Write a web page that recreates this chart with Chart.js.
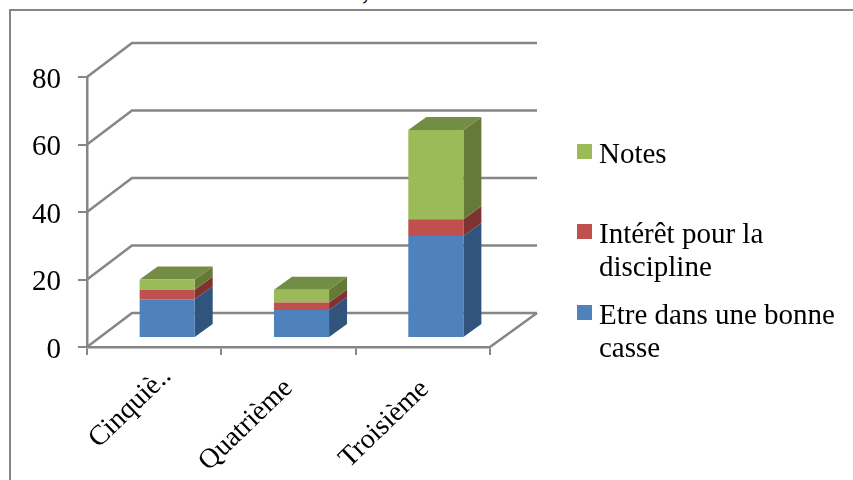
<!DOCTYPE html>
<html>
<head>
<meta charset="utf-8">
<style>
    html, body { margin: 0; padding: 0; background: #fff; overflow: hidden; }
    #wrap { position: relative; width: 853px; height: 480px; overflow: hidden; font-family: "Liberation Serif", serif; color: #000; }
    #frame { position: absolute; left: 9px; top: 9px; width: 860px; height: 490px; border: 2px solid #868686; box-sizing: border-box; }
    #title { position: absolute; left: 362px; top: -27px; font-size: 29px; line-height: 32px; word-spacing: 60px; white-space: nowrap; }
    canvas { position: absolute; left: 0; top: 0; }
    .item { position: absolute; left: 599px; width: 245px; font-size: 29px; line-height: 33px; }
    .box { position: absolute; left: -22px; top: 7px; width: 15px; height: 15px; }
</style>
</head>
<body>
<div id="wrap">
    <div id="frame"></div>
    <div id="title">, moteurs</div>
    <canvas id="chart" width="853" height="480"></canvas>
    <div id="legend"></div>
</div>
<script src="https://cdn.jsdelivr.net/npm/chart.js@4"></script>
<script>
const categories = ["Cinquiè..", "Quatrième", "Troisième"];
const yTicks = [0, 20, 40, 60, 80];
const bonneClasse = [11.5, 8.3, 30.2];
const interet = [2.8, 2.2, 5];
const notes = [3, 3.8, 26.4];

const lineColor = "#868686";
const fontName = "Liberation Serif";
const wall = { x: 45, y: 34, rightX: 47 };  // depth of the back wall
const barShift = { x: 13, y: 9 };           // bars stand inside the floor
const barDepth = { x: 18, y: 13 };
const labelNudge = [[13, 25], [0, 37], [2, 38]];
const labelAngle = 44;

function poly(ctx, pts, fill) {
    ctx.fillStyle = fill;
    ctx.beginPath();
    pts.forEach((p, i) => i ? ctx.lineTo(p[0], p[1]) : ctx.moveTo(p[0], p[1]));
    ctx.closePath();
    ctx.fill();
}

function line(ctx, pts) {
    ctx.beginPath();
    pts.forEach((p, i) => i ? ctx.lineTo(p[0], p[1]) : ctx.moveTo(p[0], p[1]));
    ctx.stroke();
}

const walls = {
    id: "walls",
    beforeDatasetsDraw(chart) {
        const ctx = chart.ctx;
        const { left, right } = chart.chartArea;
        const yScale = chart.scales.y;
        ctx.save();
        ctx.strokeStyle = lineColor;
        ctx.lineWidth = 2.5;
        yTicks.forEach(t => {
            const y = yScale.getPixelForValue(t);
            line(ctx, [[left, y], [left + wall.x, y - wall.y], [right + wall.rightX, y - wall.y]]);
        });
        const y0 = yScale.getPixelForValue(0);
        line(ctx, [[right, y0], [right + wall.rightX, y0 - wall.y]]);
        ctx.restore();
    }
};

// side and top faces, front faces are the normal bars moved onto the floor
const bars3d = {
    id: "bars3d",
    beforeDatasetsDraw(chart) {
        const ctx = chart.ctx;
        ctx.save();
        ctx.translate(barShift.x, -barShift.y);
        chart.data.datasets.forEach((ds, i) => {
            chart.getDatasetMeta(i).data.forEach(bar => {
                const r = bar.x + bar.width / 2;
                const l = bar.x - bar.width / 2;
                poly(ctx, [[r, bar.base], [r + barDepth.x, bar.base - barDepth.y], [r + barDepth.x, bar.y - barDepth.y], [r, bar.y]], ds.sideColor);
                if (i === chart.data.datasets.length - 1) {
                    poly(ctx, [[l, bar.y], [l + barDepth.x, bar.y - barDepth.y], [r + barDepth.x, bar.y - barDepth.y], [r, bar.y]], ds.topColor);
                }
            });
        });
    },
    afterDatasetsDraw(chart) {
        chart.ctx.restore();
    }
};

// the category labels do not sit at the same distance from their tick
const xLabels = {
    id: "xLabels",
    afterDraw(chart) {
        const ctx = chart.ctx;
        const x = chart.scales.x;
        ctx.save();
        ctx.fillStyle = "#000";
        ctx.font = "28px '" + fontName + "'";
        ctx.textAlign = "right";
        ctx.textBaseline = "middle";
        categories.forEach((c, i) => {
            ctx.save();
            ctx.translate(x.getPixelForTick(i) + labelNudge[i][0], x.top + labelNudge[i][1]);
            ctx.rotate(-labelAngle * Math.PI / 180);
            ctx.fillText(c, 0, 0);
            ctx.restore();
        });
        ctx.restore();
    }
};

const shared = { clip: false, categoryPercentage: 0.41, barPercentage: 1 };

const chart = new Chart(document.getElementById("chart"), {
    type: "bar",
    data: {
        labels: categories,
        datasets: [
            { ...shared, label: "Etre dans une bonne casse", data: bonneClasse, backgroundColor: "#4f81bd", sideColor: "#31547c" },
            { ...shared, label: "Intérêt pour la discipline", data: interet, backgroundColor: "#c0504d", sideColor: "#7e3331" },
            { ...shared, label: "Notes", data: notes, backgroundColor: "#9bbb59", sideColor: "#667a38", topColor: "#748d45" }
        ]
    },
    options: {
        responsive: false,
        animation: false,
        layout: { padding: { left: 0, top: 77, right: 363, bottom: 0 } },
        plugins: { legend: { display: false }, tooltip: { enabled: false }, title: { display: false } },
        scales: {
            x: {
                stacked: true,
                border: { color: lineColor, width: 2.5 },
                grid: { drawOnChartArea: false, drawTicks: true, color: lineColor, lineWidth: 2, tickLength: 8, offset: true },
                ticks: { display: false },
                afterFit(scale) { scale.height = 133; }
            },
            y: {
                stacked: true,
                min: 0,
                max: 80,
                border: { color: lineColor, width: 2.5 },
                grid: { drawOnChartArea: false, drawTicks: true, color: lineColor, lineWidth: 2, tickLength: 9 },
                ticks: {
                    stepSize: 20,
                    color: "#000",
                    padding: 17,
                    labelOffset: 3,
                    font: { family: fontName, size: 29 }
                },
                afterFit(scale) { scale.width = 87; }
            }
        }
    },
    plugins: [walls, bars3d, xLabels]
});

// legend: boxes and text come from the datasets, order is reversed like the stack
const legendTops = [137, 217, 298];
[...chart.data.datasets].reverse().forEach((ds, i) => {
    const item = document.createElement("div");
    item.className = "item";
    item.style.top = legendTops[i] + "px";
    const box = document.createElement("span");
    box.className = "box";
    box.style.background = ds.backgroundColor;
    item.appendChild(box);
    item.appendChild(document.createTextNode(ds.label));
    document.getElementById("legend").appendChild(item);
});
</script>
</body>
</html>
